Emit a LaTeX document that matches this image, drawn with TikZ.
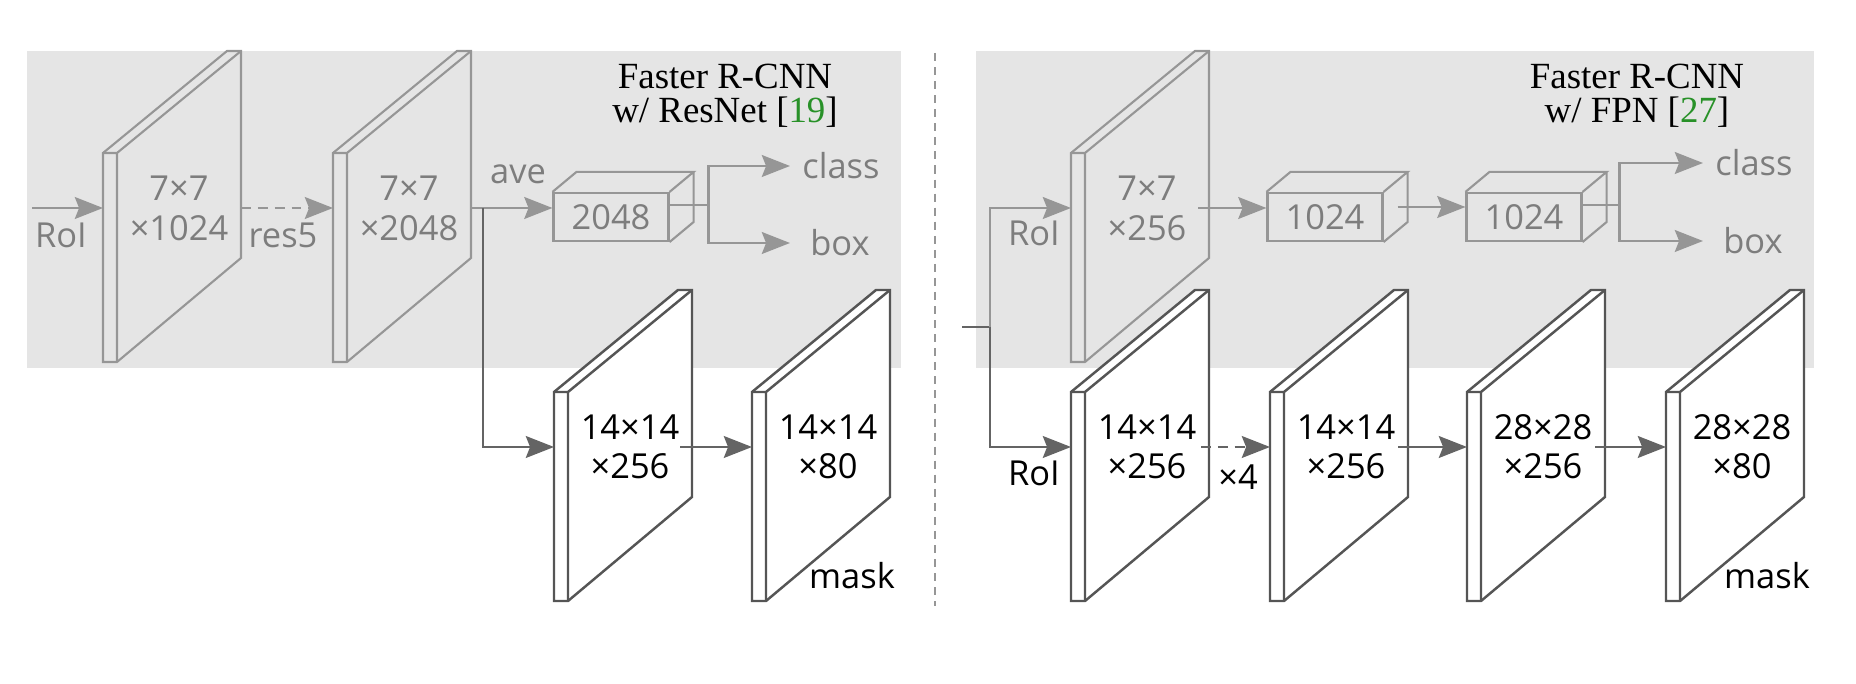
\documentclass[tikz,border=0pt]{standalone}
\usepackage{fontspec}
\setmainfont{Open Sans}
\newfontfamily\titlefont{Liberation Serif}
\usetikzlibrary{arrows.meta,positioning}
\definecolor{panelbg}{RGB}{229,229,229}
\definecolor{lgray}{RGB}{150,150,150}
\definecolor{tgray}{RGB}{125,125,125}
\definecolor{dgray}{RGB}{85,85,85}
\definecolor{agray}{RGB}{100,100,100}
\definecolor{citegreen}{RGB}{40,145,40}

% feature plate: name, strip bottom-left, style prefix, label
\newcommand{\plate}[4]{%
  \begin{scope}[shift={#2}]
    \draw[#3plate] (0,0) -- (0,-209) -- (124,-311) -- (138,-311) -- (138,-104) -- (14,0) -- cycle;
    \draw[#3plate,fill=none] (0,-209) -- (14,-209) -- (138,-311) (14,-209) -- (14,0);
    \coordinate (#1-w) at (0,-154);
    \coordinate (#1-e) at (138,-154);
    \node[#3text] (#1) at (76,-154) {#4};
  \end{scope}}

% fc box with depth
\newcommand{\fcbox}[3]{%
  \node[fcnode] (#1) at #2 {#3};
  \draw[fcline] (#1.north west) -- ++(24,-20) -- ([shift={(24,-20)}]#1.north east) -- (#1.north east)
    ([shift={(24,-20)}]#1.north east) -- ([shift={(24,-20)}]#1.south east) -- (#1.south east);}

\begin{document}
\begin{tikzpicture}[
  x=0.1mm, y=-0.1mm,
  every node/.style={font=\fontsize{9.8}{11.4}\selectfont},
  upplate/.style={draw=lgray,line width=0.6pt},
  uptext/.style={text=tgray,align=center},
  lowplate/.style={draw=dgray,fill=white,line width=0.7pt},
  lowtext/.style={text=black,align=center,font=\fontsize{9.8}{11}\selectfont},
  fcnode/.style={draw=lgray,line width=0.6pt,minimum width=11.5mm,minimum height=4.8mm,
                 inner sep=0pt,text=tgray},
  fcline/.style={draw=lgray,line width=0.6pt},
  garr/.style={draw=lgray,line width=0.75pt,-{Stealth[length=8pt,width=6.2pt,inset=1.2pt]},lgray},
  darr/.style={draw=agray,line width=0.75pt,-{Stealth[length=8pt,width=6.2pt,inset=1.2pt]},agray},
  gline/.style={draw=lgray,line width=0.75pt},
  dline/.style={draw=agray,line width=0.75pt},
  dashline/.style={dash pattern=on 2.8pt off 2pt},
  glbl/.style={text=tgray},
  outlbl/.style={text=tgray,text width=7.5mm,align=center,anchor=west},
  title/.style={font=\titlefont\fontsize{10.5}{9.7}\selectfont,align=center},
]
  \useasboundingbox (0,0) rectangle (1856,684);

  % Panels
  \fill[panelbg] (27,51) rectangle (901,368);
  \fill[panelbg] (976,51) rectangle (1814,368);
  \draw[lgray,line width=0.6pt,dash pattern=on 2.3pt off 1.7pt] (935,53) -- (935,606);

  % Titles
  \node[title] (t1) at (725,96) {Faster R-CNN\\w/ ResNet [\textcolor{citegreen}{19}]};
  \node[title] (t2) at (1637,96) {Faster R-CNN\\w/ FPN [\textcolor{citegreen}{27}]};

  % Left head (ResNet)
  \plate{p1}{(103,362)}{up}{7×7\\×1024}
  \plate{p2}{(333,362)}{up}{7×7\\×2048}
  \fcbox{fc1}{(611,217)}{2048}
  \coordinate (lin) at (32,208);
  \coordinate (lsplit) at (483,208);
  \draw[garr] (lin) -- (p1-w);
  \node[glbl] (roi1) at (61,235) {RoI};
  \draw[garr,dashline] (p1-e) -- (p2-w);
  \node[glbl] (res5) at (283,235) {res5};
  \draw[garr] (p2-e) -- (p2-e -| fc1.west);
  \node[glbl] (ave) at (518,174) {ave};
  \draw[gline] ([yshift=1.2mm]fc1.east) -- ++(15,0) -- ++(24,0) coordinate (br1);
  \node[outlbl] (cls1) at (790,166) {class};
  \node[outlbl] (bx1) at (790,243) {box};
  \draw[garr] (br1) |- (cls1.west);
  \draw[garr] (br1) |- (bx1.west);

  \plate{q1}{(554,601)}{low}{14×14\\×256}
  \plate{q2}{(752,601)}{low}{14×14\\×80}
  \draw[darr] (lsplit) |- (q1-w);
  \draw[darr] ([xshift=-1.2mm]q1-e) -- (q2-w);
  \node (mask1) at (852,576) {mask};

  % Right head (FPN)
  \plate{p5}{(1071,362)}{up}{7×7\\×256}
  \fcbox{fc2}{(1325,217)}{1024}
  \fcbox{fc3}{(1524,217)}{1024}
  \coordinate (rin) at (962,327);
  \coordinate (rsplit) at (990,327);
  \draw[dline] (rin) -- (rsplit);
  \draw[garr] (rsplit) |- (p5-w);
  \node[glbl] (roi2) at (1034,233) {RoI};
  \draw[garr] ([xshift=-1.1mm]p5-e) -- (p5-e -| fc2.west);
  \draw[garr] ([xshift=1.4mm,yshift=1mm]fc2.east) -- ([yshift=1mm]fc3.west);
  \draw[gline] ([yshift=1.2mm]fc3.east) -- ++(15,0) -- ++(22,0) coordinate (br2);
  \node[outlbl] (cls2) at (1703,163) {class};
  \node[outlbl] (bx2) at (1703,241) {box};
  \draw[garr] (br2) |- (cls2.west);
  \draw[garr] (br2) |- (bx2.west);

  \plate{q3}{(1071,601)}{low}{14×14\\×256}
  \plate{q4}{(1270,601)}{low}{14×14\\×256}
  \plate{q5}{(1467,601)}{low}{28×28\\×256}
  \plate{q6}{(1666,601)}{low}{28×28\\×80}
  \draw[darr] (rsplit) |- (q3-w);
  \node (roi3) at (1034,473) {RoI};
  \draw[darr,dashline] ([xshift=-0.8mm]q3-e) -- (q4-w);
  \node (x4) at (1238,477) {×4};
  \draw[darr] ([xshift=-1mm]q4-e) -- (q5-w);
  \draw[darr] ([xshift=-1mm]q5-e) -- (q6-w);
  \node (mask2) at (1767,576) {mask};
\end{tikzpicture}
\end{document}
